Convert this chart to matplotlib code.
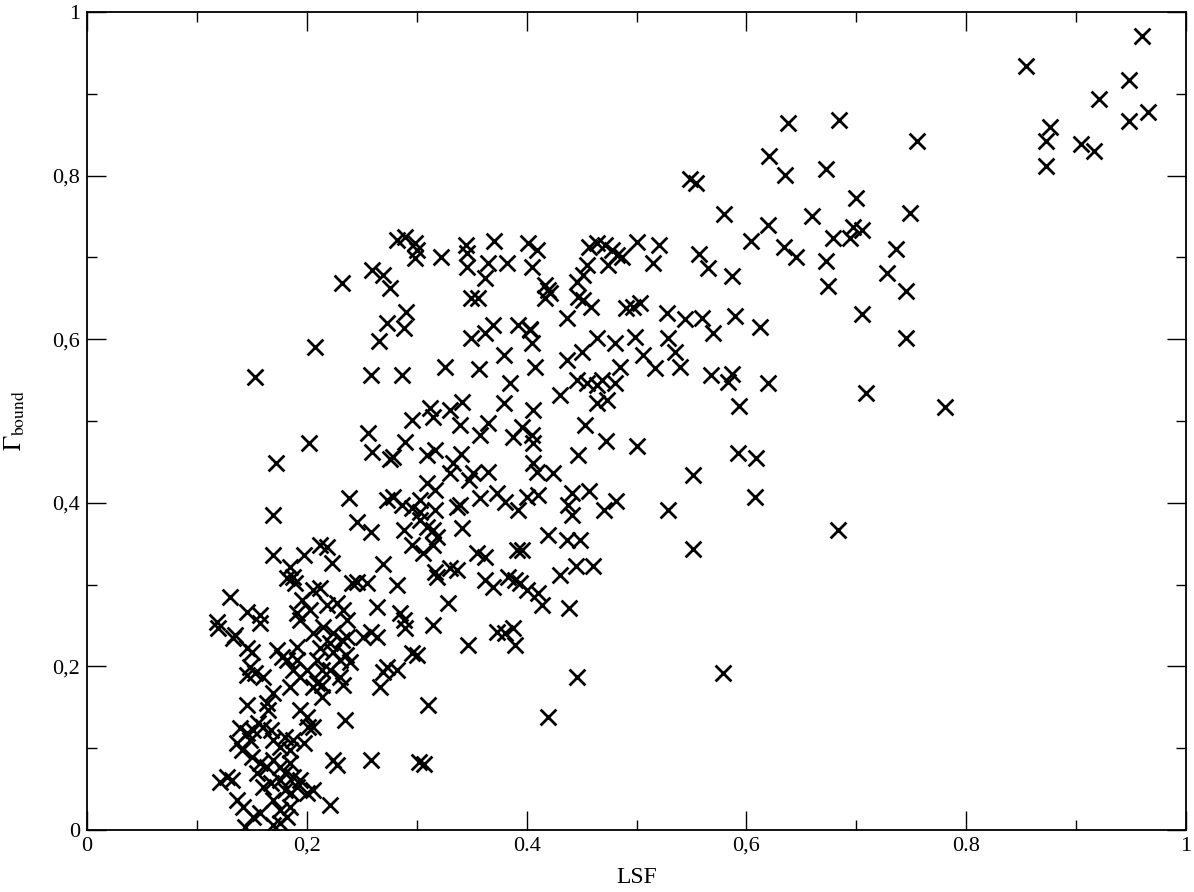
import matplotlib
matplotlib.use('Agg')
import matplotlib.pyplot as plt
from matplotlib.ticker import MultipleLocator, FixedLocator

plt.rcParams['font.family'] = ['Liberation Serif', 'DejaVu Serif']
plt.rcParams['mathtext.fontset'] = 'stix'

# LSF (x) and Gamma_bound (y), grouped by region
lsf_top = [0.960, 0.854, 0.948, 0.921, 0.965, 0.948, 0.876, 0.873, 0.904, 0.916, 0.873]
gam_top = [0.971, 0.934, 0.917, 0.894, 0.878, 0.867, 0.860, 0.842, 0.839, 0.830, 0.812]

lsf_right = [0.638, 0.684, 0.755, 0.621, 0.635, 0.672, 0.549, 0.554, 0.580, 0.620,
             0.660, 0.700, 0.749, 0.697, 0.705, 0.679, 0.694, 0.604, 0.634, 0.645,
             0.672, 0.736, 0.728, 0.745, 0.674, 0.557, 0.565, 0.587, 0.705, 0.745,
             0.612, 0.590, 0.570, 0.568, 0.587, 0.583, 0.620, 0.593, 0.709, 0.781,
             0.592, 0.609, 0.608, 0.683, 0.551, 0.551, 0.579, 0.544, 0.560, 0.540,
             0.535, 0.529, 0.528]
gam_right = [0.864, 0.868, 0.842, 0.824, 0.801, 0.808, 0.796, 0.791, 0.753, 0.740,
             0.751, 0.773, 0.754, 0.737, 0.733, 0.724, 0.724, 0.720, 0.713, 0.701,
             0.696, 0.710, 0.681, 0.659, 0.665, 0.704, 0.687, 0.677, 0.631, 0.601,
             0.615, 0.628, 0.608, 0.556, 0.558, 0.548, 0.546, 0.518, 0.534, 0.517,
             0.461, 0.455, 0.407, 0.367, 0.434, 0.343, 0.192, 0.625, 0.626, 0.566,
             0.584, 0.601, 0.632]

lsf_mid = [0.401, 0.409, 0.405, 0.457, 0.464, 0.471, 0.478, 0.482, 0.487, 0.500,
           0.520, 0.515, 0.455, 0.474, 0.451, 0.446, 0.447, 0.451, 0.459, 0.417,
           0.419, 0.417, 0.421, 0.437, 0.490, 0.497, 0.503, 0.403, 0.405, 0.408,
           0.464, 0.480, 0.499, 0.506, 0.517, 0.450, 0.437, 0.485, 0.446, 0.455,
           0.464, 0.469, 0.480, 0.430, 0.464, 0.473, 0.406, 0.453, 0.472, 0.500,
           0.447]
gam_mid = [0.718, 0.709, 0.688, 0.713, 0.718, 0.715, 0.709, 0.703, 0.701, 0.719,
           0.715, 0.693, 0.691, 0.691, 0.678, 0.670, 0.652, 0.648, 0.639, 0.666,
           0.660, 0.650, 0.656, 0.626, 0.638, 0.639, 0.644, 0.611, 0.595, 0.566,
           0.601, 0.595, 0.603, 0.581, 0.565, 0.584, 0.575, 0.566, 0.550, 0.546,
           0.544, 0.550, 0.546, 0.532, 0.522, 0.526, 0.513, 0.495, 0.476, 0.469,
           0.459]

lsf_midlow = [0.424, 0.410, 0.441, 0.457, 0.438, 0.441, 0.470, 0.481, 0.529, 0.419,
              0.437, 0.449, 0.396, 0.445, 0.460, 0.430, 0.400, 0.410, 0.414, 0.439,
              0.406, 0.405, 0.396, 0.388]
gam_midlow = [0.436, 0.409, 0.412, 0.414, 0.397, 0.385, 0.391, 0.402, 0.391, 0.361,
              0.355, 0.355, 0.342, 0.323, 0.323, 0.312, 0.293, 0.290, 0.275, 0.271,
              0.473, 0.483, 0.493, 0.480]

lsf_upleft = [0.282, 0.289, 0.298, 0.300, 0.298, 0.322, 0.345, 0.346, 0.346, 0.370,
              0.365, 0.382, 0.362, 0.259, 0.269, 0.276, 0.232, 0.349, 0.356, 0.290,
              0.288, 0.273, 0.266, 0.207, 0.153, 0.258, 0.287, 0.326, 0.357, 0.349,
              0.362, 0.369, 0.392, 0.403, 0.379, 0.385, 0.379, 0.341, 0.330, 0.312,
              0.315, 0.296, 0.339, 0.256, 0.289, 0.202, 0.365, 0.358]
gam_upleft = [0.721, 0.725, 0.718, 0.709, 0.699, 0.700, 0.715, 0.705, 0.688, 0.720,
              0.693, 0.693, 0.675, 0.685, 0.678, 0.663, 0.669, 0.650, 0.650, 0.633,
              0.614, 0.620, 0.598, 0.590, 0.554, 0.556, 0.556, 0.566, 0.563, 0.601,
              0.608, 0.617, 0.617, 0.613, 0.581, 0.547, 0.522, 0.523, 0.513, 0.516,
              0.505, 0.501, 0.495, 0.485, 0.474, 0.473, 0.497, 0.483]

lsf_center = [0.259, 0.276, 0.278, 0.309, 0.317, 0.340, 0.172, 0.333, 0.330, 0.351,
              0.365, 0.348, 0.406, 0.409, 0.309, 0.317, 0.238, 0.273, 0.278, 0.287,
              0.303, 0.296, 0.303, 0.317, 0.339, 0.337, 0.358, 0.373, 0.380, 0.392,
              0.400, 0.169, 0.246, 0.258, 0.288, 0.303, 0.309, 0.315, 0.296, 0.306,
              0.315, 0.318, 0.341, 0.169, 0.197, 0.212, 0.218, 0.223, 0.269, 0.185,
              0.187, 0.189, 0.182, 0.212, 0.206, 0.246, 0.241, 0.255, 0.282, 0.318,
              0.317, 0.330, 0.337, 0.355, 0.362, 0.391, 0.362, 0.369, 0.383, 0.394,
              0.328, 0.130, 0.146, 0.157, 0.264, 0.285, 0.389]
gam_center = [0.462, 0.454, 0.456, 0.458, 0.465, 0.460, 0.449, 0.449, 0.436, 0.436,
              0.438, 0.428, 0.449, 0.438, 0.424, 0.416, 0.406, 0.403, 0.407, 0.397,
              0.403, 0.394, 0.389, 0.391, 0.397, 0.395, 0.406, 0.412, 0.401, 0.391,
              0.407, 0.385, 0.377, 0.364, 0.367, 0.379, 0.370, 0.367, 0.348, 0.339,
              0.348, 0.358, 0.369, 0.336, 0.336, 0.348, 0.346, 0.326, 0.325, 0.322,
              0.309, 0.302, 0.308, 0.296, 0.293, 0.303, 0.302, 0.302, 0.300, 0.309,
              0.315, 0.320, 0.318, 0.339, 0.334, 0.342, 0.306, 0.297, 0.309, 0.302,
              0.278, 0.285, 0.267, 0.263, 0.273, 0.265, 0.306]

lsf_low = [0.118, 0.119, 0.157, 0.135, 0.133, 0.146, 0.150, 0.148, 0.146, 0.153,
           0.160, 0.173, 0.177, 0.182, 0.191, 0.191, 0.169, 0.164, 0.165, 0.146,
           0.187, 0.194, 0.185, 0.200, 0.209, 0.214, 0.214, 0.214, 0.194, 0.200,
           0.206, 0.139, 0.146, 0.151, 0.156, 0.136, 0.141, 0.148, 0.160, 0.167,
           0.169, 0.176, 0.180, 0.185, 0.187, 0.197, 0.201, 0.150, 0.157, 0.164,
           0.155, 0.169, 0.176, 0.180, 0.185, 0.187, 0.194, 0.121, 0.127, 0.132,
           0.160, 0.167, 0.176, 0.180, 0.186, 0.191, 0.200, 0.206, 0.224, 0.227,
           0.136, 0.142, 0.151, 0.157, 0.169, 0.176, 0.182, 0.185, 0.144, 0.169,
           0.176, 0.221, 0.235, 0.196, 0.203, 0.194, 0.191, 0.218, 0.227, 0.233,
           0.215, 0.224, 0.232, 0.221, 0.212, 0.224, 0.230, 0.221, 0.237, 0.237,
           0.206, 0.209, 0.206]
gam_low = [0.254, 0.247, 0.253, 0.238, 0.235, 0.222, 0.218, 0.199, 0.189, 0.192,
           0.187, 0.220, 0.211, 0.208, 0.224, 0.208, 0.167, 0.155, 0.147, 0.153,
           0.196, 0.187, 0.175, 0.196, 0.208, 0.196, 0.177, 0.163, 0.147, 0.138,
           0.126, 0.125, 0.119, 0.122, 0.131, 0.106, 0.098, 0.110, 0.126, 0.122,
           0.110, 0.101, 0.114, 0.098, 0.110, 0.106, 0.126, 0.089, 0.082, 0.077,
           0.070, 0.086, 0.077, 0.070, 0.082, 0.065, 0.061, 0.059, 0.065, 0.061,
           0.053, 0.057, 0.061, 0.049, 0.045, 0.053, 0.045, 0.049, 0.086, 0.079,
           0.037, 0.028, 0.016, 0.021, 0.037, 0.024, 0.016, 0.028, 0.004, 0.006,
           0.009, 0.031, 0.134, 0.281, 0.269, 0.257, 0.265, 0.275, 0.278, 0.269,
           0.248, 0.241, 0.232, 0.229, 0.222, 0.218, 0.208, 0.196, 0.257, 0.236,
           0.241, 0.180, 0.175]

lsf_sparse = [0.288, 0.289, 0.315, 0.347, 0.373, 0.380, 0.388, 0.389, 0.300, 0.296,
              0.273, 0.269, 0.282, 0.267, 0.310, 0.419, 0.446, 0.258, 0.264, 0.251,
              0.236, 0.239, 0.230, 0.233, 0.302, 0.307, 0.258]
gam_sparse = [0.257, 0.247, 0.251, 0.226, 0.242, 0.241, 0.247, 0.226, 0.214, 0.216,
              0.199, 0.193, 0.196, 0.175, 0.153, 0.138, 0.187, 0.242, 0.236, 0.236,
              0.214, 0.205, 0.187, 0.177, 0.083, 0.081, 0.085]

lsf = lsf_top + lsf_right + lsf_mid + lsf_midlow + lsf_upleft + lsf_center + lsf_low + lsf_sparse
gamma = gam_top + gam_right + gam_mid + gam_midlow + gam_upleft + gam_center + gam_low + gam_sparse

x_labels = ['0', '0,2', '0.4', '0,6', '0.8', '1']
y_labels = ['0', '0,2', '0,4', '0,6', '0,8', '1']

fig = plt.figure(figsize=(11.94, 8.92), dpi=100)
ax = fig.add_axes([0.0729, 0.0695, 0.9204, 0.917])

ax.scatter(lsf, gamma, marker='x', s=130, c='black', linewidths=2.0)

ax.set_xlim(0, 1)
ax.set_ylim(0, 1)
ax.xaxis.set_major_locator(FixedLocator([0, 0.2, 0.4, 0.6, 0.8, 1.0]))
ax.yaxis.set_major_locator(FixedLocator([0, 0.2, 0.4, 0.6, 0.8, 1.0]))
ax.set_xticklabels(x_labels)
ax.set_yticklabels(y_labels)
ax.xaxis.set_minor_locator(MultipleLocator(0.1))
ax.yaxis.set_minor_locator(MultipleLocator(0.1))
ax.tick_params(which='both', direction='in', top=True, right=True, width=1.0,
               labelsize=16, pad=5)
ax.tick_params(which='major', length=14)
ax.tick_params(which='minor', length=7)
for sp in ax.spines.values():
    sp.set_linewidth(1.3)

ax.set_xlabel('LSF', fontsize=17, labelpad=8)
ax.set_ylabel(r'$\Gamma_{\mathrm{bound}}$', fontsize=18, labelpad=18)

fig.savefig('out.png', dpi=100)
